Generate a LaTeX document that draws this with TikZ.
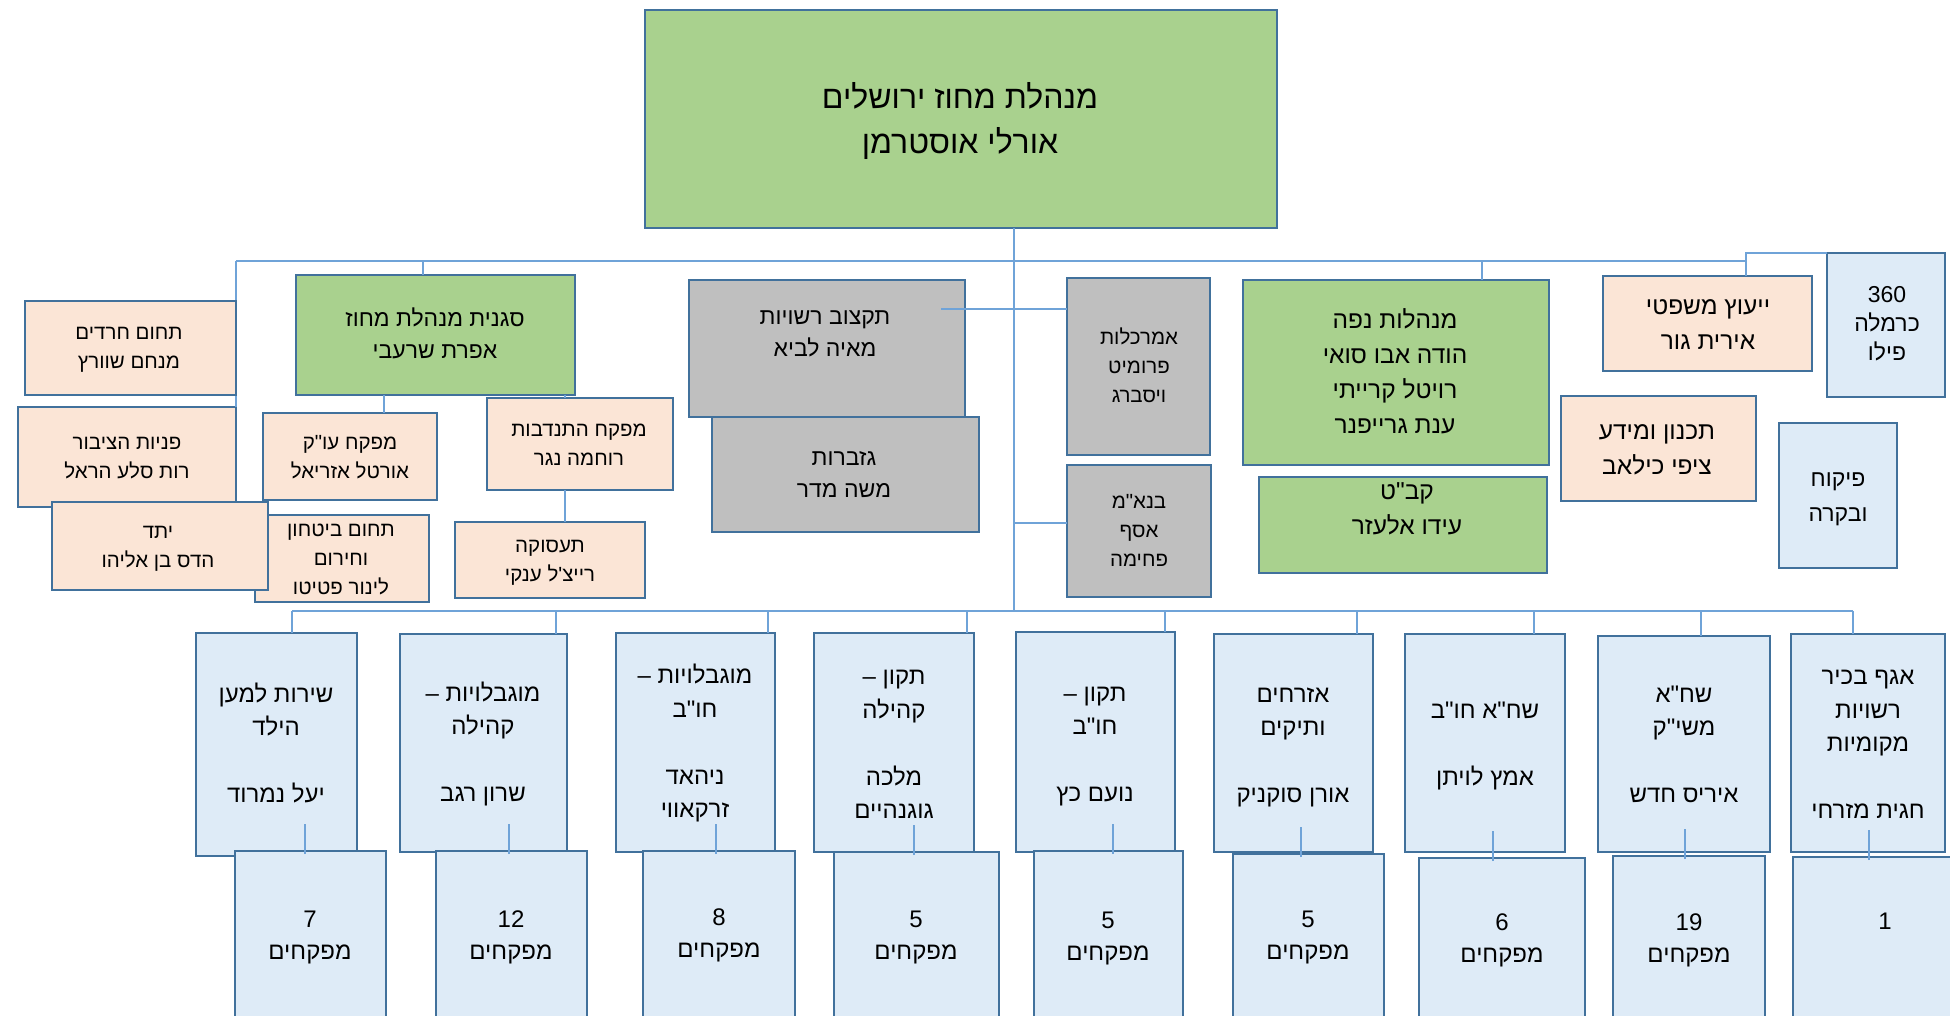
\documentclass[tikz,border=0pt]{standalone}
\usepackage{fontspec}
\setmainfont{Liberation Sans}
\newfontfamily\heb[Script=Hebrew]{Liberation Sans}
\TeXXeTstate=1
\definecolor{bordc}{HTML}{41719C}
\definecolor{grn}{HTML}{A9D18E}
\definecolor{pch}{HTML}{FBE5D6}
\definecolor{gry}{HTML}{BFBFBF}
\definecolor{lbl}{HTML}{DEEBF7}
\definecolor{lnc}{HTML}{6FA3D8}
\newcommand\HL[1]{\beginR\strut #1\endR}
\newcommand\NL[1]{\strut #1}
\newcommand\BX[6]{\node[#2, minimum width={#5-#3}, minimum height={#6-#4}] (#1) at ({(#3+#5)/2},{(#4+#6)/2}) {};}
\newcommand\TX[5]{\node[#2] (t#1) at (#3,#4) {#5};}
\tikzset{
 bx/.style={draw=bordc, line width=2.2pt, inner sep=0pt, outer sep=0pt, rectangle},
 gbox/.style={bx, fill=grn},
 pbox/.style={bx, fill=pch},
 ybox/.style={bx, fill=gry},
 lbox/.style={bx, fill=lbl},
 conn/.style={draw=lnc, line width=1.5pt},
 fs/.style 2 args={font=\heb\fontsize{#1}{#2}\selectfont},
 txt/.style={align=center, inner sep=0pt, fs={20.5}{29}},
 txtm/.style={txt, fs={23}{32}},
 txtl/.style={txt, fs={24.5}{35}},
 txtb/.style={txt, fs={24}{33.5}},
 txtt/.style={txt, fs={32}{45}},
}
\begin{document}
\begin{tikzpicture}[x=1pt,y=-1pt]
\clip (0,0) rectangle (1950,1015);
\fill[white] (0,0) rectangle (1950,1015);
% named connector points
\coordinate (ubL) at (236,261);
\coordinate (ubR) at (1746,261);
\coordinate (lbL) at (292,611);
\coordinate (lbR) at (1853,611);
\coordinate (trk) at (1014,228);
% ---------- boxes (upper area) ----------
\BX{top}{gbox}{645}{10}{1277}{228}
% connectors behind boxes
\draw[conn] (ubL) -- (ubR);
\draw[conn] (trk) -- (trk |- lbL);
\draw[conn] (lbL) -- (lbR);
\BX{pny}{pbox}{18}{407}{236}{507}
\draw[conn] (ubL) -- (pny.north east);
\BX{hrd}{pbox}{25}{301}{236}{395}
\BX{bth}{pbox}{255}{515}{429}{602}
\BX{ytd}{pbox}{52}{502}{268}{590}
\BX{sgn}{gbox}{296}{275}{575}{395}
\BX{ouk}{pbox}{263}{413}{437}{500}
\BX{htn}{pbox}{487}{398}{673}{490}
\BX{tsk}{pbox}{455}{522}{645}{598}
\BX{tkz}{ybox}{689}{280}{965}{417}
\BX{gzb}{ybox}{712}{417}{979}{532}
\BX{amr}{ybox}{1067}{278}{1210}{455}
\BX{bnm}{ybox}{1067}{465}{1211}{597}
\BX{nfa}{gbox}{1243}{280}{1549}{465}
\BX{kbt}{gbox}{1259}{477}{1547}{573}
\BX{yez}{pbox}{1603}{276}{1812}{371}
\BX{crm}{lbox}{1827}{253}{1945}{397}
\BX{tkn}{pbox}{1561}{396}{1756}{501}
\BX{pkh}{lbox}{1779}{423}{1897}{568}
% upper connectors
\draw[conn] (423,261) -- (423,0 |- sgn.north);
\draw[conn] (1482,261) -- (1482,0 |- nfa.north);
\draw[conn] (ubR) -- (ubR |- yez.north);
\draw[conn] (ubR) -- (1746,253) -- (crm.north west);
\draw[conn] (384,0 |- sgn.south) -- (384,0 |- ouk.north);
\draw[conn] (565,0 |- sgn.south) -- (565,0 |- htn.north);
\draw[conn] (565,0 |- htn.south) -- (565,0 |- tsk.north);
\coordinate (tkin) at (941,309);
\draw[conn] (tkin) -- (amr.west |- tkin);
\draw[conn] (1014,523) -- (1067,523);
% ---------- bottom row ----------
\BX{b1}{lbox}{196}{633}{357}{856}
\BX{b2}{lbox}{400}{634}{567}{852}
\BX{b3}{lbox}{616}{633}{775}{852}
\BX{b4}{lbox}{814}{633}{974}{852}
\BX{b5}{lbox}{1016}{632}{1175}{852}
\BX{b6}{lbox}{1214}{634}{1373}{852}
\BX{b7}{lbox}{1405}{634}{1565}{852}
\BX{b8}{lbox}{1598}{636}{1770}{852}
\BX{b9}{lbox}{1791}{634}{1945}{852}
\foreach \n/\x in {b1/292,b2/556,b3/768,b4/967,b5/1165,b6/1357,b7/1534,b8/1701,b9/1853}
  \draw[conn] (\x,611) -- (\x,0 |- \n.north);
\BX{l1}{lbox}{235}{851}{386}{1040}
\BX{l2}{lbox}{436}{851}{587}{1040}
\BX{l3}{lbox}{643}{851}{795}{1040}
\BX{l4}{lbox}{834}{852}{999}{1040}
\BX{l5}{lbox}{1034}{851}{1183}{1040}
\BX{l6}{lbox}{1233}{854}{1384}{1040}
\BX{l7}{lbox}{1419}{858}{1585}{1040}
\BX{l8}{lbox}{1613}{856}{1765}{1040}
\BX{l9}{lbox}{1793}{857}{1990}{1040}
\foreach \n/\x in {l1/305,l2/509,l3/716,l4/914,l5/1113,l6/1301,l7/1493,l8/1685,l9/1869}
  \draw[conn] (\x,0 |- \n.north) ++(0,3) -- ++(0,-30);
% ---------- texts ----------
\TX{top}{txtt}{960}{122}{\HL{מנהלת מחוז ירושלים}\\\HL{אורלי אוסטרמן}}
\TX{hrd}{txt}{129}{348}{\HL{תחום חרדים}\\\HL{מנחם שוורץ}}
\TX{pny}{txt}{127}{458}{\HL{פניות הציבור}\\\HL{רות סלע הראל}}
\TX{ytd}{txt}{158}{547}{\HL{יתד}\\\HL{הדס בן אליהו}}
\TX{sgn}{txtm}{435}{336}{\HL{סגנית מנהלת מחוז}\\\HL{אפרת שרעבי}}
\TX{ouk}{txt}{350}{458}{\HL{מפקח עו"ק}\\\HL{אורטל אזריאל}}
\TX{bth}{txt}{341}{560}{\HL{תחום ביטחון}\\\HL{וחירום}\\\HL{לינור פטיטו}}
\TX{htn}{txt}{579}{445}{\HL{מפקח התנדבות}\\\HL{רוחמה נגר}}
\TX{tsk}{txt}{550}{561}{\HL{תעסוקה}\\\HL{רייצ'ל ענקי}}
\TX{tkz}{txtm}{825}{334}{\HL{תקצוב רשויות}\\\HL{מאיה לביא}}
\TX{gzb}{txtm}{844}{475}{\HL{גזברות}\\\HL{משה מדר}}
\TX{amr}{txt}{1139}{368}{\HL{אמרכלות}\\\HL{פרומיט}\\\HL{ויסברג}}
\TX{bnm}{txt}{1139}{532}{\HL{בנא"מ}\\\HL{אסף}\\\HL{פחימה}}
\TX{nfa}{txtl}{1395}{374}{\HL{מנהלות נפה}\\\HL{הודה אבו סואי}\\\HL{רויטל קרייתי}\\\HL{ענת גרייפנר}}
\TX{kbt}{txtl}{1407}{510}{\HL{קב"ט}\\\HL{עידו אלעזר}}
\TX{yez}{txtl}{1708}{325}{\HL{ייעוץ משפטי}\\\HL{אירית גור}}
\TX{crm}{txt,fs={23}{29}}{1887}{326}{\NL{360}\\\HL{כרמלה}\\\HL{פילו}}
\TX{tkn}{txtl}{1657}{450}{\HL{תכנון ומידע}\\\HL{ציפי כילאב}}
\TX{pkh}{txt,fs={23}{35}}{1838}{497}{\HL{פיקוח}\\\HL{ובקרה}}
\TX{b1}{txtb}{276}{746}{\HL{שירות למען}\\\HL{הילד}\\\HL{}\\\HL{יעל נמרוד}}
\TX{b2}{txtb}{483}{745}{\HL{מוגבלויות –}\\\HL{קהילה}\\\HL{}\\\HL{שרון רגב}}
\TX{b3}{txtb}{695}{744}{\HL{מוגבלויות –}\\\HL{חו"ב}\\\HL{}\\\HL{ניהאד}\\\HL{זרקאווי}}
\TX{b4}{txtb}{894}{745}{\HL{תקון –}\\\HL{קהילה}\\\HL{}\\\HL{מלכה}\\\HL{גוגנהיים}}
\TX{b5}{txtb}{1095}{745}{\HL{תקון –}\\\HL{חו"ב}\\\HL{}\\\HL{נועם כץ}}
\TX{b6}{txtb}{1293}{746}{\HL{אזרחים}\\\HL{ותיקים}\\\HL{}\\\HL{אורן סוקניק}}
\TX{b7}{txtb}{1485}{745}{\HL{שח"א חו"ב}\\\HL{}\\\HL{אמץ לויתן}}
\TX{b8}{txtb}{1684}{746}{\HL{שח"א}\\\HL{משי"ק}\\\HL{}\\\HL{איריס חדש}}
\TX{b9}{txtb}{1868}{745}{\HL{אגף בכיר}\\\HL{רשויות}\\\HL{מקומיות}\\\HL{}\\\HL{חגית מזרחי}}
\TX{l1}{txtb,fs={24}{32}}{310}{937}{\NL{7}\\\HL{מפקחים}}
\TX{l2}{txtb,fs={24}{32}}{511}{937}{\NL{12}\\\HL{מפקחים}}
\TX{l3}{txtb,fs={24}{32}}{719}{935}{\NL{8}\\\HL{מפקחים}}
\TX{l4}{txtb,fs={24}{32}}{916}{937}{\NL{5}\\\HL{מפקחים}}
\TX{l5}{txtb,fs={24}{32}}{1108}{938}{\NL{5}\\\HL{מפקחים}}
\TX{l6}{txtb,fs={24}{32}}{1308}{937}{\NL{5}\\\HL{מפקחים}}
\TX{l7}{txtb,fs={24}{32}}{1502}{940}{\NL{6}\\\HL{מפקחים}}
\TX{l8}{txtb,fs={24}{32}}{1689}{940}{\NL{19}\\\HL{מפקחים}}
\TX{l9}{txtb,fs={24}{32}}{1885}{923}{\NL{1}}
\end{tikzpicture}
\end{document}
